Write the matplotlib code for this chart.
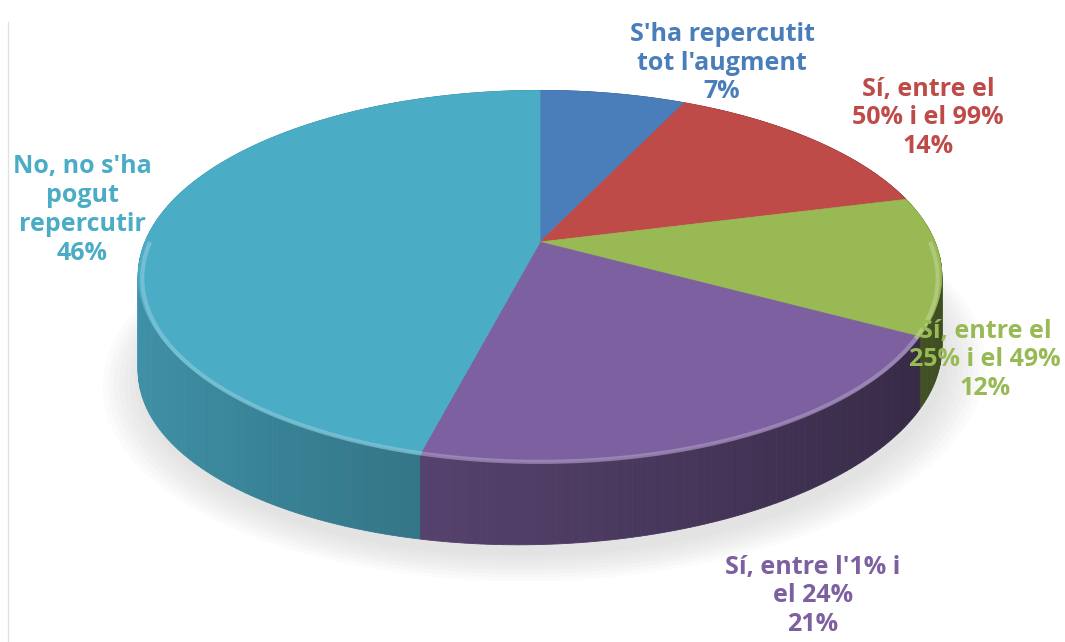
import numpy as np
import matplotlib.pyplot as plt
from matplotlib.patches import Polygon
from matplotlib.colors import to_rgb

labels = ["S'ha repercutit\ntot l'augment", "Sí, entre el\n50% i el 99%", "Sí, entre el\n25% i el 49%",
          "Sí, entre l'1% i\nel 24%", "No, no s'ha\npogut\nrepercutir"]
values = [7, 14, 12, 21, 46]
colors = ['#4A7EBB', '#BE4B48', '#98B954', '#7D60A0', '#4BACC6']

# where the data labels sit (pixel layout, y down)
label_xy = [(722, 63), (928, 118), (985, 360), (813, 596), (82, 210)]

# simple perspective camera for the tilted pie
CX, CY = 540, 242
FOC, DIST = 1924, 4.87
EL = np.radians(27)


def proj(X, Z):
    yc = Z * np.sin(EL)
    zc = DIST + Z * np.cos(EL)
    return CX + FOC * X / zc, CY - FOC * yc / zc


def depth(X):
    # wall height on screen, a bit thicker on the left like Excel's view
    return 83 - 12 * X


def shade(c, k):
    r, g, b = to_rgb(c)
    return (r * k, g * k, b * k)


def lighten(c, k):
    r, g, b = to_rgb(c)
    return (r + (1 - r) * k, g + (1 - g) * k, b + (1 - b) * k)


fig = plt.figure(figsize=(10.65, 6.42), dpi=100)
ax = fig.add_axes([0, 0, 1, 1])
ax.set_xlim(0, 1065)
ax.set_ylim(642, 0)
ax.axis('off')

frac = np.array(values) / np.sum(values)
edges = np.concatenate([[0], np.cumsum(frac)]) * 2 * np.pi

# soft shadow under the pie
t = np.linspace(0, 2 * np.pi, 300)
for s in np.linspace(1.09, 1.0, 8):
    x, y = proj(s * np.sin(t), s * np.cos(t) - 0.02)
    y = y + depth(np.sin(t)) + 6
    ax.add_patch(Polygon(np.column_stack([x + 4, y]), closed=True, color='#9a9a9a',
                         alpha=0.035, lw=0, zorder=0))

# outer walls, drawn far to near
quads = []
for k in range(len(values)):
    ts = np.linspace(edges[k], edges[k + 1], max(4, int(frac[k] * 400)))
    for a, b in zip(ts[:-1], ts[1:]):
        m = (a + b) / 2
        xa, ya = proj(np.sin(a), np.cos(a))
        xb, yb = proj(np.sin(b), np.cos(b))
        pts = [(xa, ya), (xb, yb), (xb, yb + depth(np.sin(b))), (xa, ya + depth(np.sin(a)))]
        kk = 0.63 - 0.22 * np.sin(m)
        quads.append((np.cos(m), pts, shade(colors[k], kk)))
quads.sort(key=lambda q: -q[0])
for _, pts, col in quads:
    ax.add_patch(Polygon(pts, closed=True, facecolor=col, edgecolor=col, lw=0.6, zorder=1))

# top faces
x0, y0 = proj(0, 0)
for k in range(len(values)):
    ts = np.linspace(edges[k], edges[k + 1], 200)
    x, y = proj(np.sin(ts), np.cos(ts))
    pts = np.column_stack([np.r_[x0, x], np.r_[y0, y]])
    ax.add_patch(Polygon(pts, closed=True, facecolor=colors[k], edgecolor=colors[k], lw=0.5, zorder=2))
    # bevel highlight on the near rim
    front = ts[np.cos(ts) < 0.02]
    if len(front) > 1:
        hx, hy = proj(np.sin(front) * 0.99, np.cos(front) * 0.99)
        ax.plot(hx, hy + 3, color=lighten(colors[k], 0.3), lw=3, alpha=0.75,
                solid_capstyle='butt', zorder=3)

for k in range(len(values)):
    txt = labels[k] + "\n" + f"{values[k]}%"
    ax.text(label_xy[k][0], label_xy[k][1], txt, ha='center', va='center', color=colors[k],
            fontsize=18, fontweight='bold', family='Open Sans', linespacing=1.2, zorder=5)

ax.plot([8, 8], [22, 642], color='#e2e2e2', lw=1, zorder=0)

fig.savefig('out.png', dpi=100)
